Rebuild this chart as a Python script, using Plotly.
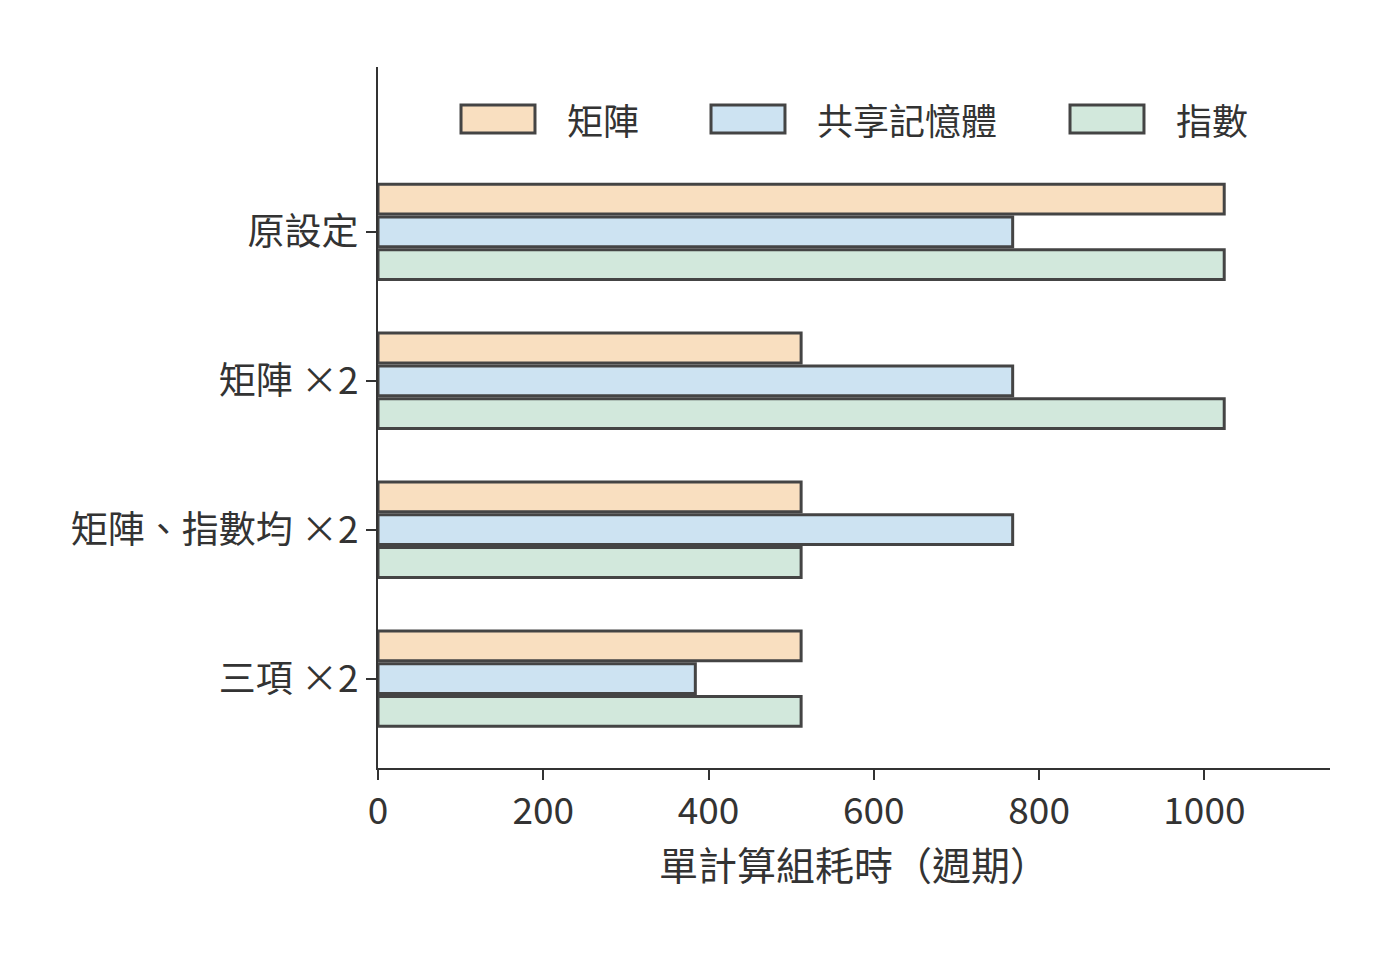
import plotly.graph_objects as go

# Data
categories = ["原設定", "矩陣 ×2", "矩陣、指數均 ×2", "三項 ×2"]
series_names = ["矩陣", "共享記憶體", "指數"]
matrix_cycles = [1024, 512, 512, 512]
shared_mem_cycles = [768, 768, 768, 384]
exp_cycles = [1024, 1024, 512, 512]
x_ticks = [0, 200, 400, 600, 800, 1000]

colors = ["#f9dfc0", "#cde3f2", "#d2e8dc"]
edge = "#444444"
text_color = "#333333"
font_family = "Noto Sans CJK TC"

fig = go.Figure()
for name, vals, col in zip(series_names, [matrix_cycles, shared_mem_cycles, exp_cycles], colors):
    fig.add_trace(go.Bar(
        y=categories, x=vals, name=name, orientation="h",
        marker=dict(color=col, line=dict(color=edge, width=3)),
        showlegend=False,
    ))

# Hand-made legend with large patches, like the reference
legend_pos = [(0.0872, 0.1649, 0.1964), (0.3498, 0.4275, 0.4590), (0.7269, 0.8046, 0.8361)]
for (x0, x1, xt), name, col in zip(legend_pos, series_names, colors):
    fig.add_shape(type="rect", xref="paper", yref="paper", x0=x0, x1=x1, y0=0.9058, y1=0.9458,
                  fillcolor=col, line=dict(color=edge, width=3))
    fig.add_annotation(xref="paper", yref="paper", x=xt, y=0.9258, text=name, showarrow=False,
                       xanchor="left", yanchor="middle", font=dict(size=36, color=text_color))

fig.update_layout(
    width=1400, height=960,
    margin=dict(l=370, r=78, t=59, b=200),
    plot_bgcolor="white", paper_bgcolor="white",
    font=dict(family=font_family, size=37, color=text_color),
    barmode="group", bargap=0.34, bargroupgap=0.09,
)
fig.update_xaxes(
    range=[0, 1152], tickvals=x_ticks, showgrid=False, zeroline=False,
    showline=True, linecolor=text_color, linewidth=2,
    ticks="outside", ticklen=10, tickwidth=2, tickcolor=text_color,
    title=dict(text="單計算組耗時（週期）", standoff=0, font=dict(size=39)),
)
fig.update_yaxes(
    categoryorder="array", categoryarray=categories, range=[3.6, -1.107],
    showgrid=False, zeroline=False,
    showline=True, linecolor=text_color, linewidth=2,
    ticks="outside", ticklen=10, tickwidth=2, tickcolor=text_color,
)

fig.write_html("out.html")
